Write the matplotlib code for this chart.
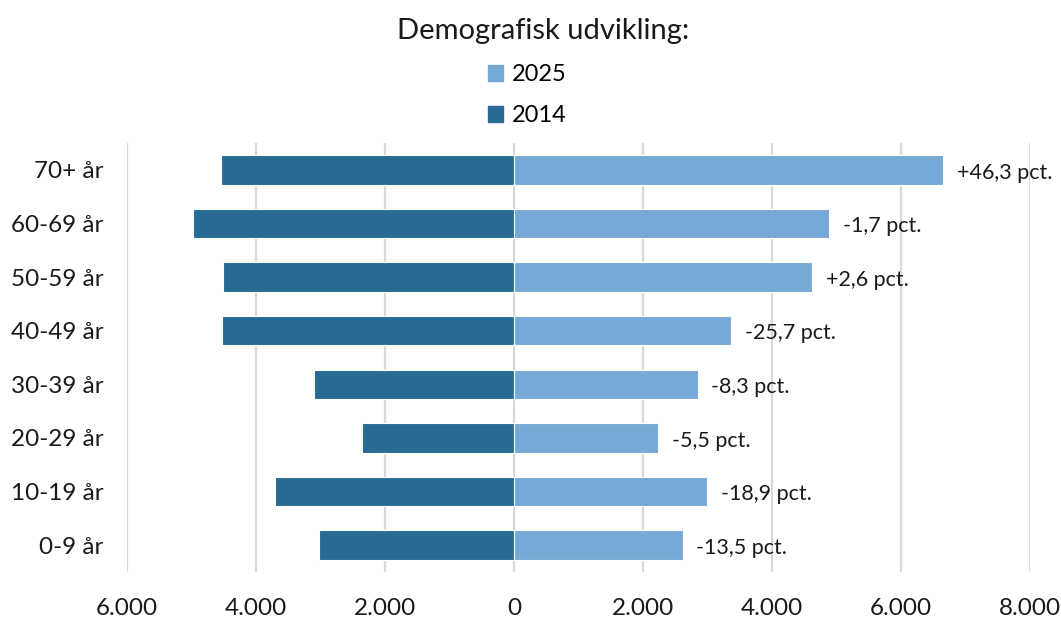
import matplotlib.pyplot as plt
from matplotlib.ticker import FuncFormatter
from matplotlib.patches import Patch

plt.rcParams['font.family'] = ['Lato', 'DejaVu Sans']

# data (top to bottom as in the chart)
groups = ['70+ år', '60-69 år', '50-59 år', '40-49 år', '30-39 år', '20-29 år', '10-19 år', '0-9 år']
pop_2014 = [4542, 4976, 4511, 4526, 3108, 2363, 3698, 3025]
pop_2025 = [6647, 4891, 4624, 3362, 2846, 2234, 2996, 2613]
change_labels = ['+46,3 pct.', '-1,7 pct.', '+2,6 pct.', '-25,7 pct.',
                 '-8,3 pct.', '-5,5 pct.', '-18,9 pct.', '-13,5 pct.']

c2014 = '#276A93'
c2025 = '#77A9D6'

fig = plt.figure(figsize=(10.61, 6.19), dpi=100)
ax = fig.add_axes([0.1197, 0.0759, 0.8511, 0.6931])

y = list(range(len(groups)))[::-1]
ax.barh(y, [-v for v in pop_2014], height=0.55, color=c2014, edgecolor='white', linewidth=0.8, zorder=3)
ax.barh(y, pop_2025, height=0.55, color=c2025, edgecolor='white', linewidth=0.8, zorder=3)

for yi, v, lab in zip(y, pop_2025, change_labels):
    ax.annotate(lab, (v, yi), xytext=(10, -2), textcoords='offset points',
                va='center', ha='left', fontsize=15.5, color='#1a1a1a')

ax.set_xlim(-6000, 8000)
ax.set_ylim(-0.5, 7.5)
ax.set_xticks(range(-6000, 8001, 2000))
ax.xaxis.set_major_formatter(FuncFormatter(lambda v, p: f'{abs(int(v)):,}'.replace(',', '.')))
ax.set_yticks(y)
ax.set_yticklabels(groups)
ax.tick_params(axis='both', length=0, labelsize=17.5, colors='#1a1a1a')
ax.tick_params(axis='x', pad=19)
ax.tick_params(axis='y', pad=17)
ax.grid(axis='x', color='#D9D9D9', linewidth=1.6, zorder=0)
for s in ax.spines.values():
    s.set_visible(False)

fig.text(0.512, 0.95, 'Demografisk udvikling:', ha='center', va='center', fontsize=21, color='#1a1a1a')
handles = [Patch(color=c2025, label='2025'), Patch(color=c2014, label='2014')]
fig.legend(handles=handles, loc='center', bbox_to_anchor=(0.497, 0.846), frameon=False,
           fontsize=17, handlelength=0.65, handleheight=0.65, handletextpad=0.4, labelspacing=0.85)

fig.savefig('out.png', dpi=100)
